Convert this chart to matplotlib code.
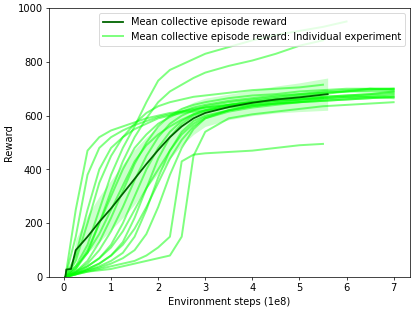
import numpy as np
import matplotlib
matplotlib.use("Agg")
import matplotlib.pyplot as plt

plt.rcParams['font.size'] = 11

# shared x grid for the individual runs (env steps, 1e8)
grid = [0.03, 0.25, 0.5, 0.75, 1.0, 1.25, 1.5, 1.75, 2.0, 2.25, 2.5, 2.75,
        3.0, 3.5, 4.0, 4.5, 5.0, 5.5, 6.0, 6.5, 7.0]

runs = [
    [0, 250, 470, 520, 545, 560, 575, 590, 600, 610, 615, 625, 630, 640, 650, 660, 665, 670, 675, 680, 690],
    [0, 150, 380, 480, 520, 545, 565, 580, 595, 605, 615, 620, 630, 640, 650, 655, 660, 665],
    [0, 80, 250, 400, 480, 520, 550, 570, 590, 600, 610, 615, 620, 630, 640, 645, 650, 655, 660, 665, 670],
    [0, 40, 120, 250, 380, 480, 560, 650, 730, 770, 790, 810, 830, 855, 880, 900, 915, 930, 950],
    [0, 30, 90, 200, 320, 430, 520, 590, 650, 690, 715, 740, 760, 785, 805, 830, 860, 880],
    [0, 30, 100, 200, 300, 400, 480, 530, 570, 595, 615, 630, 640, 655, 665, 675, 680, 690, 695, 700, 700],
    [0, 20, 60, 130, 220, 320, 420, 500, 560, 600, 625, 640, 650, 665, 675, 680, 690, 695, 700, 700, 695],
    [0, 20, 50, 100, 170, 260, 360, 450, 520, 570, 600, 620, 635, 650, 660, 670, 680, 685, 690, 690, 690],
    [0, 15, 40, 70, 120, 200, 300, 400, 480, 540, 580, 605, 620, 640, 650, 660, 670, 680, 690, 700, 700],
    [0, 15, 30, 50, 80, 130, 220, 330, 440, 520, 570, 600, 615, 635, 645, 655, 660, 670, 675, 680, 685],
    [0, 15, 25, 40, 60, 90, 150, 250, 370, 470, 540, 580, 600, 620, 635, 645, 650, 660, 665, 670, 675],
    [0, 10, 25, 35, 50, 70, 100, 160, 260, 380, 480, 550, 590, 615, 630, 640, 650, 655, 660, 665, 670],
    [0, 10, 20, 30, 40, 50, 60, 80, 110, 150, 430, 455, 460, 465, 470, 480, 490, 495],
    [0, 10, 20, 25, 30, 40, 50, 60, 70, 80, 150, 450, 540, 590, 605, 615, 625, 635, 640, 645, 650],
    [0, 20, 40, 70, 110, 170, 250, 330, 400, 470, 530, 570, 595, 620, 635, 645, 655, 665, 670, 675, 680],
    [0, 40, 90, 160, 250, 340, 430, 490, 530, 560, 585, 605, 620, 640, 655, 665, 675, 685, 690, 695, 700],
    [0, 10, 30, 50, 80, 120, 180, 260, 350, 440, 510, 560, 590, 620, 640, 650, 660, 665, 670, 670, 665],
    [0, 60, 200, 350, 450, 520, 570, 610, 635, 650, 660, 670, 675, 685, 695, 700, 705, 715],
]

mean_x = [0.03, 0.05, 0.15, 0.25, 0.5, 0.75, 1.0, 1.25, 1.5, 1.75, 2.0, 2.25,
          2.5, 2.75, 3.0, 3.5, 4.0, 4.5, 5.0, 5.6]
mean_y = [0, 28, 30, 100, 150, 205, 255, 310, 365, 420, 472, 520,
          560, 590, 610, 632, 648, 660, 668, 680]
band_lo = [0, 20, 20, 60, 90, 130, 175, 220, 270, 330, 385, 440,
           490, 530, 560, 585, 600, 610, 615, 620]
band_hi = [0, 36, 40, 140, 230, 300, 360, 420, 475, 520, 560, 600,
           630, 650, 665, 680, 695, 710, 722, 740]

fig, ax = plt.subplots(figsize=(6.4, 4.8125), dpi=64.84375)

ax.fill_between(mean_x, band_lo, band_hi, color='lime', alpha=0.2, linewidth=0)
for i, r in enumerate(runs):
    ax.plot(grid[:len(r)], r, color='lime', alpha=0.5, linewidth=2.2,
            label='Mean collective episode reward: Individual experiment' if i == 0 else None)
ax.plot(mean_x, mean_y, color='darkgreen', linewidth=2, label='Mean collective episode reward')

handles, labels = ax.get_legend_handles_labels()
ax.legend(handles[::-1], labels[::-1], loc='upper right')

ax.set_ylim(0, 1000)
ax.set_xlabel('Environment steps (1e8)')
ax.set_ylabel('Reward')

plt.subplots_adjust(left=0.118, right=0.988, top=0.974, bottom=0.112)
plt.savefig('out.png')
